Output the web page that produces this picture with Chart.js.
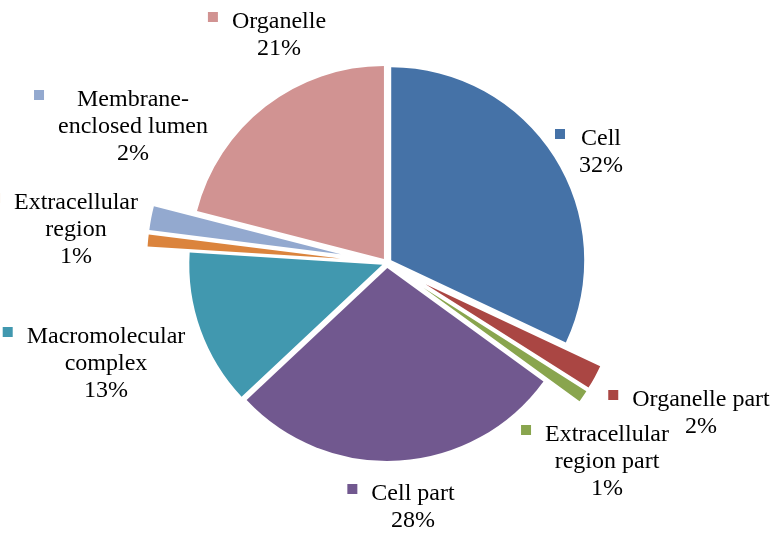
<!DOCTYPE html>
<html>
<head>
<meta charset="utf-8">
<script src="https://cdn.jsdelivr.net/npm/chart.js@4"></script>
<style>
  html, body { margin: 0; padding: 0; background: #fff; }
  #wrap { width: 779px; height: 537px; }
</style>
</head>
<body>
<div id="wrap"><canvas id="pie" width="779" height="537"></canvas></div>
<script>
// slices, clockwise from 12 o'clock
const categories = ['Cell', 'Organelle part', 'Extracellular region part', 'Cell part',
  'Macromolecular complex', 'Extracellular region', 'Membrane-enclosed lumen', 'Organelle'];
const percentages = [32, 2, 1, 28, 13, 1, 2, 21];

// how each label is broken over lines (percentage line is added below)
const labelLines = [
  ['Cell'],
  ['Organelle part'],
  ['Extracellular', 'region part'],
  ['Cell part'],
  ['Macromolecular', 'complex'],
  ['Extracellular', 'region'],
  ['Membrane-', 'enclosed lumen'],
  ['Organelle']
];

const sliceColors = ['#4572A7', '#AA4643', '#89A54E', '#71588F', '#4198AF', '#DB843D', '#93A9CF', '#D19392'];
// explode distance per slice, px
const sliceExplode = [5, 44, 44, 5, 5, 47, 47, 5];
// label block: text centre x, first baseline y
const labelAnchors = [[601, 145], [701, 406], [607, 441], [413, 500], [106, 343], [76, 209], [133, 106], [279, 28]];
const LINE_H = 27;

const explodePlugin = {
  id: 'explode',
  beforeDatasetsDraw(chart) {
    const meta = chart.getDatasetMeta(0);
    const a = chart.chartArea;
    const cx = (a.left + a.right) / 2;
    const cy = (a.top + a.bottom) / 2;
    meta.data.forEach((arc, i) => {
      const mid = (arc.startAngle + arc.endAngle) / 2;
      arc.x = cx + Math.cos(mid) * sliceExplode[i];
      arc.y = cy + Math.sin(mid) * sliceExplode[i];
    });
  }
};

const labelPlugin = {
  id: 'sliceLabels',
  afterDatasetsDraw(chart) {
    const ctx = chart.ctx;
    ctx.save();
    ctx.font = '24px "Liberation Serif", "Times New Roman", serif';
    ctx.textAlign = 'center';
    ctx.textBaseline = 'alphabetic';
    labelLines.forEach((lines, i) => {
      const all = lines.concat([percentages[i] + '%']);
      const [cx, by] = labelAnchors[i];
      const maxW = Math.max(...all.map(t => ctx.measureText(t).width));
      ctx.fillStyle = sliceColors[i];
      ctx.fillRect(cx - maxW / 2 - 24, by - 16, 10, 10);
      ctx.fillStyle = '#000';
      all.forEach((t, k) => ctx.fillText(t, cx, by + k * LINE_H));
    });
    ctx.restore();
  }
};

new Chart(document.getElementById('pie'), {
  type: 'pie',
  data: {
    labels: categories,
    datasets: [{
      data: percentages,
      backgroundColor: sliceColors,
      borderWidth: 0
    }]
  },
  options: {
    responsive: false,
    animation: false,
    radius: 193,
    layout: { padding: { left: 0, right: 5, top: 0, bottom: 11 } },
    plugins: {
      legend: { display: false },
      tooltip: { enabled: false }
    }
  },
  plugins: [explodePlugin, labelPlugin]
});
</script>
</body>
</html>
